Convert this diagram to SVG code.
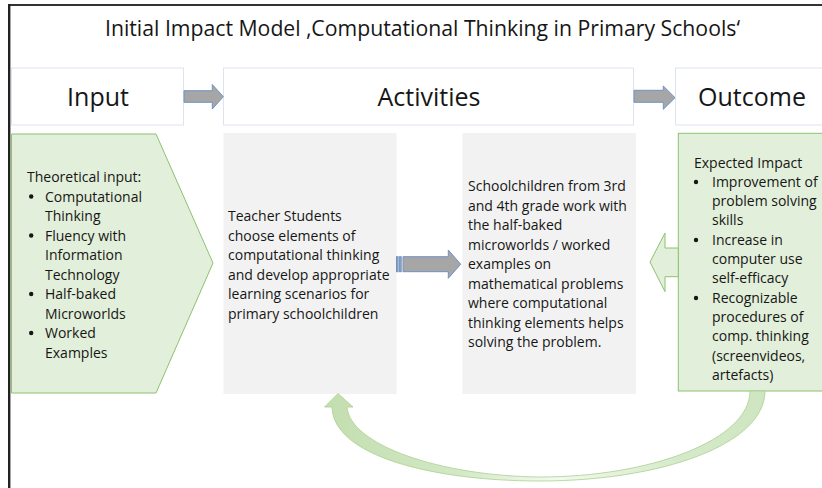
<svg xmlns="http://www.w3.org/2000/svg" width="822" height="488" viewBox="0 0 822 488">
  <defs>
    <style>
      .t { font-family: "Open Sans", "Liberation Sans", sans-serif; fill: #161616; }
      .body { font-size: 14px; }
      .head { font-size: 25px; text-anchor: middle; }
      .hbox { fill: #ffffff; stroke: #dde4ec; stroke-width: 1; }
      .gbox { fill: #f2f2f2; }
      .green { fill: #e2efda; stroke: #8dc26f; stroke-width: 1; }
      .blk { fill: #a6a6a6; stroke: #6f93c4; stroke-width: 1; }
      .dot { fill: #161616; }
    </style>
    <linearGradient id="curveGrad" gradientUnits="userSpaceOnUse" x1="325" y1="0" x2="765" y2="0">
      <stop offset="0" stop-color="#c3deb0"/>
      <stop offset="0.3" stop-color="#d3e8c6"/>
      <stop offset="0.52" stop-color="#f3f9ef"/>
      <stop offset="0.8" stop-color="#d6eacb"/>
      <stop offset="1" stop-color="#cfe5c1"/>
    </linearGradient>
  </defs>

  <rect x="0" y="0" width="822" height="488" fill="#ffffff"/>

  <g id="frame">
    <line x1="8" y1="5" x2="822" y2="5" stroke="#333333" stroke-width="2"/>
    <line x1="9.2" y1="4" x2="9.2" y2="488" stroke="#222222" stroke-width="2.4"/>
  </g>

  <g id="title">
    <text class="t" x="105" y="36" font-size="21" textLength="635" lengthAdjust="spacingAndGlyphs">Initial Impact Model ‚Computational Thinking in Primary Schools‘</text>
  </g>

  <g id="header-input">
    <rect class="hbox" x="11.5" y="68" width="172" height="57"/>
    <text class="t head" x="98" y="106">Input</text>
  </g>
  <g id="header-activities">
    <rect class="hbox" x="223.5" y="68" width="410" height="57"/>
    <text class="t head" x="429" y="106">Activities</text>
  </g>
  <g id="header-outcome">
    <rect class="hbox" x="675.5" y="68" width="160" height="57"/>
    <text class="t head" x="752" y="106">Outcome</text>
  </g>

  <g id="input-node">
    <polygon class="green" points="11.5,134 156,134 213,263 156,393 11.5,393"/>
    <text class="t body">
      <tspan x="27" y="182">Theoretical input:</tspan>
      <tspan x="45" y="201.5">Computational</tspan>
      <tspan x="45" y="221">Thinking</tspan>
      <tspan x="45" y="240.5">Fluency with</tspan>
      <tspan x="45" y="260">Information</tspan>
      <tspan x="45" y="279.5">Technology</tspan>
      <tspan x="45" y="299">Half-baked</tspan>
      <tspan x="45" y="318.5">Microworlds</tspan>
      <tspan x="45" y="338">Worked</tspan>
      <tspan x="45" y="357.5">Examples</tspan>
    </text>
    <circle class="dot" cx="31.2" cy="196.5" r="2.2"/>
    <circle class="dot" cx="31.2" cy="235.5" r="2.2"/>
    <circle class="dot" cx="31.2" cy="294" r="2.2"/>
    <circle class="dot" cx="31.2" cy="333" r="2.2"/>
  </g>

  <g id="teacher-node">
    <rect class="gbox" x="223.5" y="133" width="173" height="261"/>
    <text class="t body">
      <tspan x="228" y="221">Teacher Students</tspan>
      <tspan x="228" y="240.5">choose elements of</tspan>
      <tspan x="228" y="260">computational thinking</tspan>
      <tspan x="228" y="279.5">and develop appropriate</tspan>
      <tspan x="228" y="299">learning scenarios for</tspan>
      <tspan x="228" y="318.5">primary schoolchildren</tspan>
    </text>
  </g>

  <g id="school-node">
    <rect class="gbox" x="462.5" y="133" width="173.5" height="261"/>
    <text class="t body">
      <tspan x="468" y="191">Schoolchildren from 3rd</tspan>
      <tspan x="468" y="210.5">and 4th grade work with</tspan>
      <tspan x="468" y="230">the half-baked</tspan>
      <tspan x="468" y="249.5">microworlds / worked</tspan>
      <tspan x="468" y="269">examples on</tspan>
      <tspan x="468" y="288.5">mathematical problems</tspan>
      <tspan x="468" y="308">where computational</tspan>
      <tspan x="468" y="327.5">thinking elements helps</tspan>
      <tspan x="468" y="347">solving the problem.</tspan>
    </text>
  </g>

  <g id="outcome-node">
    <rect class="green" x="678.3" y="133.3" width="150" height="257.7"/>
    <text class="t body">
      <tspan x="694" y="167.5">Expected Impact</tspan>
      <tspan x="712" y="186.8">Improvement of</tspan>
      <tspan x="712" y="206.1">problem solving</tspan>
      <tspan x="712" y="225.4">skills</tspan>
      <tspan x="712" y="244.7">Increase in</tspan>
      <tspan x="712" y="264">computer use</tspan>
      <tspan x="712" y="283.3">self-efficacy</tspan>
      <tspan x="712" y="302.6">Recognizable</tspan>
      <tspan x="712" y="321.9">procedures of</tspan>
      <tspan x="712" y="341.2">comp. thinking</tspan>
      <tspan x="712" y="360.5">(screenvideos,</tspan>
      <tspan x="712" y="379.8">artefacts)</tspan>
    </text>
    <circle class="dot" cx="696" cy="182" r="2.2"/>
    <circle class="dot" cx="696" cy="240" r="2.2"/>
    <circle class="dot" cx="696" cy="298" r="2.2"/>
  </g>

  <g id="connectors">
    <polygon class="blk" points="184,90.7 212.3,90.7 212.3,84.5 223.3,96.7 212.3,109 212.3,102.3 184,102.3"/>
    <polygon class="blk" points="634,90.3 663.3,90.3 663.3,86 675,97.7 663.3,109.3 663.3,102.3 634,102.3"/>
    <g>
      <rect class="blk" x="396.5" y="256.7" width="1.6" height="15"/>
      <rect class="blk" x="399.6" y="256.7" width="1.6" height="15"/>
      <polygon class="blk" points="403,256.7 448.3,256.7 448.3,250 460.7,264.2 448.3,278.3 448.3,271.7 403,271.7"/>
    </g>
    <polygon class="green" points="650,262 665,233 665,248 678.3,248 678.3,276.7 665,276.7 665,291.7"/>
    <path d="M 765 391 C 765 445 660 481 540 481 C 430 481 333 455 332 407 L 324.5 407 L 338 393.5 L 353 407 L 347 407 C 350 445 440 476 540 477 C 650 477 750 440 750 391 Z" fill="url(#curveGrad)" stroke="#a9d18e" stroke-width="0.8"/>
  </g>
</svg>
